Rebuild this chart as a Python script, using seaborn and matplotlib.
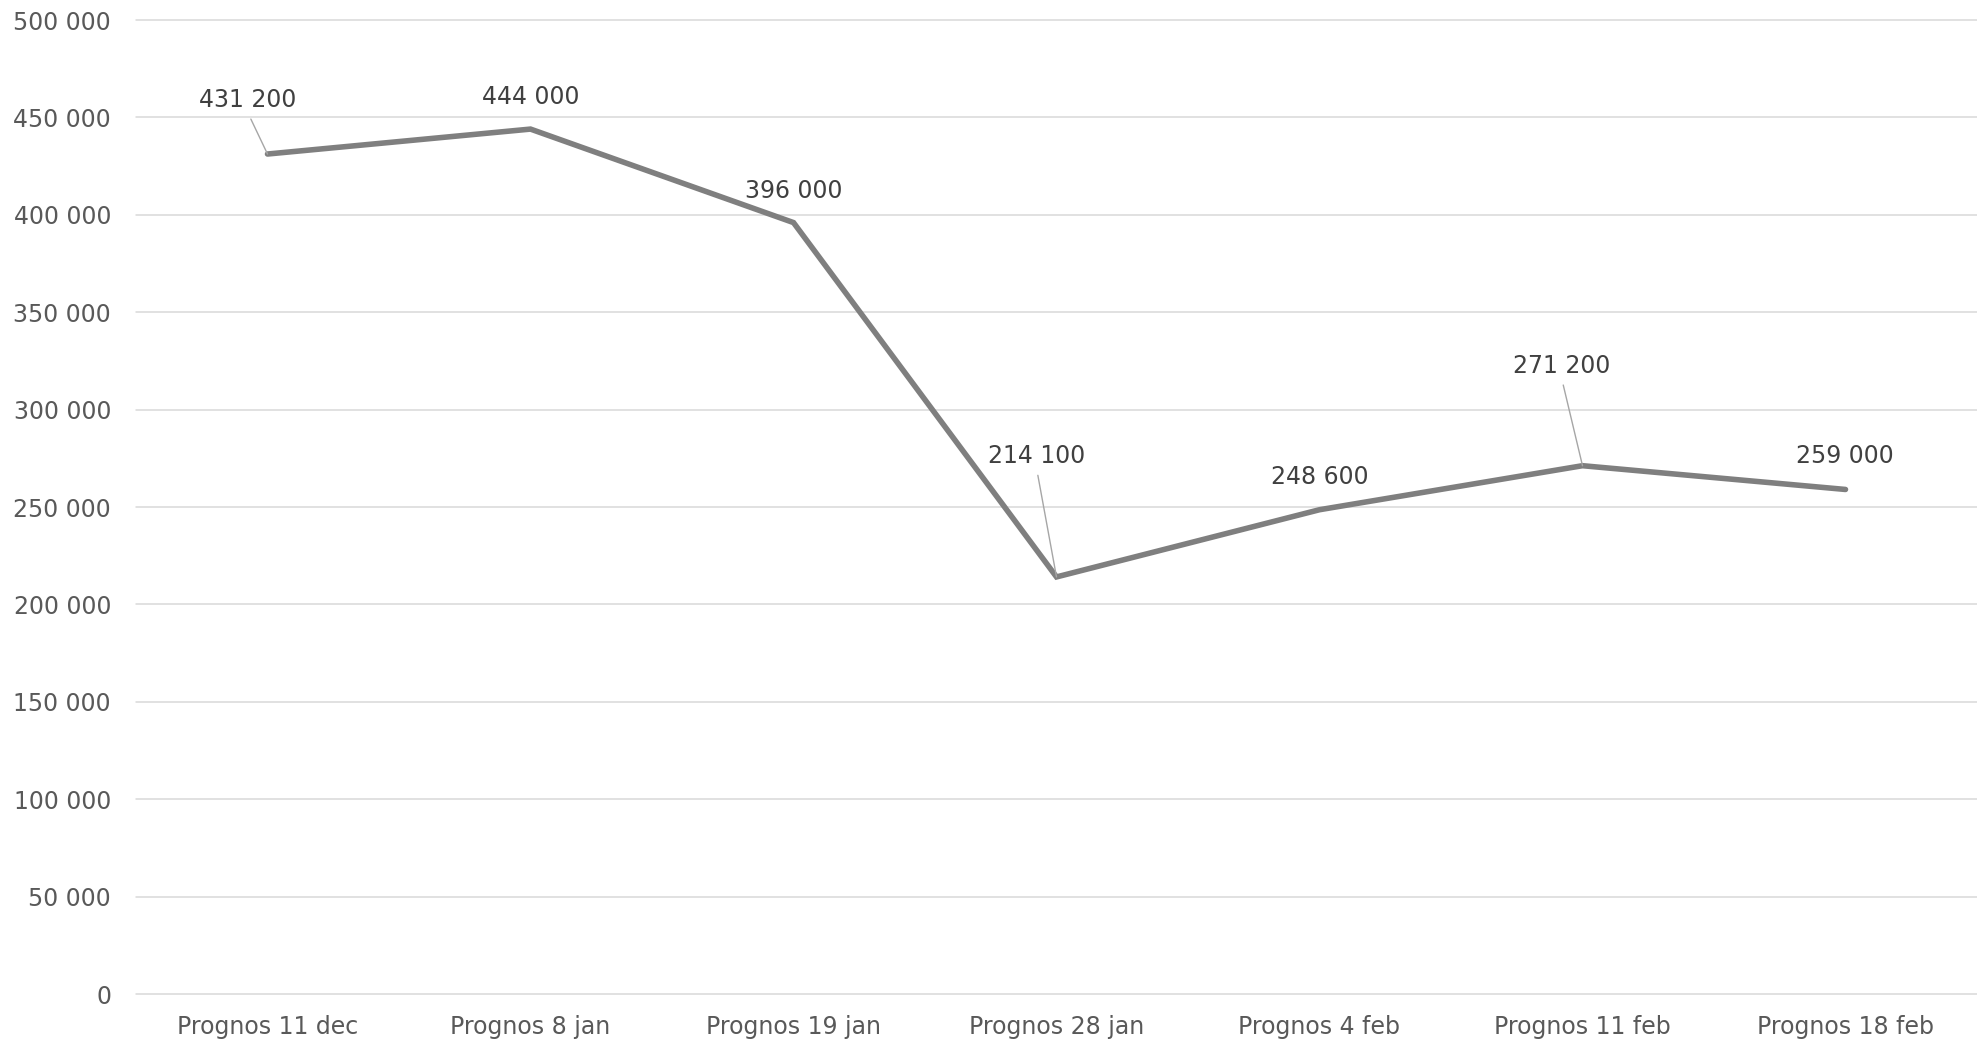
import matplotlib
matplotlib.use("Agg")
import matplotlib.pyplot as plt
from matplotlib.ticker import FuncFormatter, MultipleLocator
import seaborn as sns
import pandas as pd

categories = ["Prognos 11 dec", "Prognos 8 jan", "Prognos 19 jan", "Prognos 28 jan",
              "Prognos 4 feb", "Prognos 11 feb", "Prognos 18 feb"]
values = [431200, 444000, 396000, 214100, 248600, 271200, 259000]
value_labels = ["431 200", "444 000", "396 000", "214 100", "248 600", "271 200", "259 000"]

# label offsets in pixels (layout), and whether a leader line is drawn
label_offsets = [(-20, 54), (0, 32), (0, 32), (-20, 121), (0, 33), (-21, 100), (-1, 33)]
leaders = [True, False, False, True, False, True, False]

sns.set_theme(style="white")
plt.rcParams['font.family'] = ['DejaVu Sans']

df = pd.DataFrame({"cat": categories, "val": values})

fig = plt.figure(figsize=(19.77, 10.41), dpi=100)
ax = fig.add_axes([136/1977, 1 - 994/1041, 1 - 136/1977, (994 - 20)/1041])

sns.lineplot(data=df, x="cat", y="val", sort=False, ax=ax, color="#7f7f7f",
             linewidth=4.0, solid_joinstyle="miter", zorder=3)

ax.set_ylim(0, 500000)
ax.set_xlim(-0.5, len(categories) - 0.5)
ax.yaxis.set_major_locator(MultipleLocator(50000))
ax.yaxis.set_major_formatter(FuncFormatter(lambda v, p: f"{int(v):,}".replace(",", " ")))
ax.grid(axis="y", color="#d9d9d9", linewidth=1.1)
ax.grid(axis="x", visible=False)
for gl in ax.get_ygridlines():
    gl.set_clip_on(False)
for s in ax.spines.values():
    s.set_visible(False)
ax.tick_params(axis="y", length=0, pad=18, labelsize=17, labelcolor="#595959")
ax.tick_params(axis="x", length=0, pad=15, labelsize=17, labelcolor="#595959")
ax.set_xlabel("")
ax.set_ylabel("")

for i, (v, lab) in enumerate(zip(values, value_labels)):
    dx, dy = label_offsets[i]
    kw = {}
    if leaders[i]:
        kw["arrowprops"] = dict(arrowstyle="-", color="#a6a6a6", lw=1.0,
                                shrinkA=3, shrinkB=0, relpos=(0.5, 0.0))
    ax.annotate(lab, xy=(i, v), xytext=(dx, dy), textcoords="offset pixels",
                ha="center", va="center", fontsize=17, color="#404040", **kw)

fig.savefig("out.png", dpi=100)
